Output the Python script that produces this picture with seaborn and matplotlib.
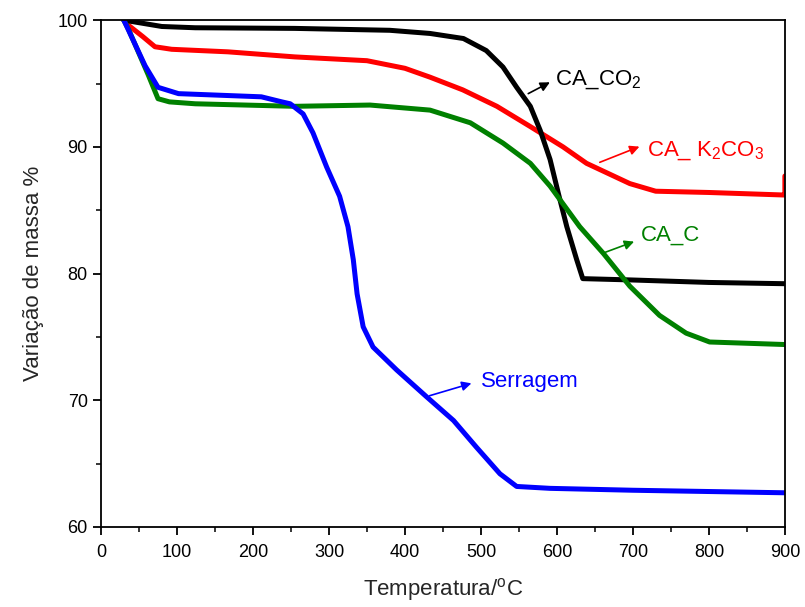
import numpy as np
import pandas as pd
import matplotlib
matplotlib.use("Agg")
import matplotlib.pyplot as plt
import seaborn as sns

# ---- data ----
t_co2 = [30, 50, 80, 124, 255, 380, 433, 477, 507, 529, 547, 565, 578, 591, 602, 613, 626, 634, 696, 800, 900]
m_co2 = [100, 99.8, 99.5, 99.4, 99.35, 99.2, 98.95, 98.55, 97.6, 96.3, 94.7, 93.2, 91.3, 89.0, 86.3, 83.7, 81.1, 79.6, 79.5, 79.3, 79.2]

t_k2co3 = [30, 36, 55, 71, 93, 167, 255, 350, 400, 433, 476, 521, 565, 608, 639, 696, 730, 800, 899, 900, 900]
m_k2co3 = [100, 99.6, 98.7, 97.9, 97.7, 97.5, 97.1, 96.8, 96.2, 95.5, 94.5, 93.2, 91.6, 90.0, 88.7, 87.1, 86.5, 86.4, 86.2, 86.2, 87.7]

t_c = [30, 36, 62, 75, 90, 124, 255, 354, 433, 486, 529, 565, 591, 630, 661, 696, 735, 770, 801, 900]
m_c = [100, 99.3, 95.7, 93.8, 93.55, 93.4, 93.2, 93.3, 92.9, 91.9, 90.3, 88.7, 86.9, 83.7, 81.6, 79.0, 76.7, 75.3, 74.6, 74.4]

t_ser = [30, 58, 75, 102, 211, 238, 249, 266, 279, 297, 314, 325, 332, 337, 345, 358, 389, 428, 464, 494, 525, 547, 591, 700, 800, 900]
m_ser = [100, 96.4, 94.7, 94.2, 93.95, 93.55, 93.4, 92.6, 91.1, 88.4, 86.1, 83.7, 81.1, 78.4, 75.8, 74.2, 72.4, 70.3, 68.4, 66.3, 64.2, 63.2, 63.05, 62.9, 62.8, 62.7]

series = [
    ("CA_K2CO3", t_k2co3, m_k2co3, "#ff0000"),
    ("CA_CO2", t_co2, m_co2, "#000000"),
    ("CA_C", t_c, m_c, "#008000"),
    ("Serragem", t_ser, m_ser, "#0000ff"),
]

sns.set_style("ticks")
plt.rcParams['font.family'] = ['Liberation Sans', 'DejaVu Sans']
plt.rcParams['mathtext.fontset'] = 'custom'
plt.rcParams['mathtext.rm'] = 'Liberation Sans'
plt.rcParams['mathtext.it'] = 'Liberation Sans'
plt.rcParams['mathtext.default'] = 'regular'

fig = plt.figure(figsize=(8.05, 6.07), dpi=100)
ax = fig.add_axes([0.1255, 0.1318, 0.8495, 0.835])

for name, t, m, c in series:
    df = pd.DataFrame({"T": t, "m": m})
    sns.lineplot(data=df, x="T", y="m", ax=ax, color=c, linewidth=3.6,
                 sort=False, estimator=None, legend=False)
for line in ax.lines:
    line.set_solid_joinstyle('round')
    line.set_solid_capstyle('round')

ax.set_xlim(0, 900)
ax.set_ylim(60, 100)
ax.set_xticks(np.arange(0, 901, 100))
ax.set_xticks(np.arange(50, 900, 100), minor=True)
ax.set_yticks(np.arange(60, 101, 10))
ax.set_yticks(np.arange(65, 100, 10), minor=True)
ax.tick_params(axis='both', which='major', direction='out', length=6, width=1.3,
               labelsize=13, colors='black')
ax.tick_params(axis='x', which='major', pad=6)
ax.tick_params(axis='both', which='minor', direction='out', length=3.5, width=1.3)
for s in ax.spines.values():
    s.set_linewidth(1.3)
    s.set_color('black')

ax.set_xlabel("Temperatura/$^o$C", fontsize=16, labelpad=11)
ax.set_ylabel("Variação de massa %", fontsize=16, labelpad=10)

arrow = dict(arrowstyle="-|>", lw=1.2, mutation_scale=14)
ax.annotate("CA_CO$_2$", xy=(597, 95.3), fontsize=16,
            color="black", va="center", ha="left")
ax.annotate("", xy=(594, 95.2), xytext=(559, 94.1),
            arrowprops=dict(arrow, color="black"))
ax.annotate("CA_ K$_2$CO$_3$", xy=(718, 89.7), fontsize=16,
            color="#ff0000", va="center", ha="left")
ax.annotate("", xy=(712, 90.1), xytext=(653, 88.7),
            arrowprops=dict(arrow, color="#ff0000"))
ax.annotate("CA_C", xy=(710, 83.0), fontsize=16,
            color="#008000", va="center", ha="left")
ax.annotate("", xy=(705, 82.6), xytext=(660, 81.6),
            arrowprops=dict(arrow, color="#008000"))
ax.annotate("Serragem", xy=(500, 71.5), fontsize=16,
            color="#0000ff", va="center", ha="left")
ax.annotate("", xy=(491, 71.4), xytext=(429, 70.3),
            arrowprops=dict(arrow, color="#0000ff"))

fig.savefig("out.png", dpi=100)
